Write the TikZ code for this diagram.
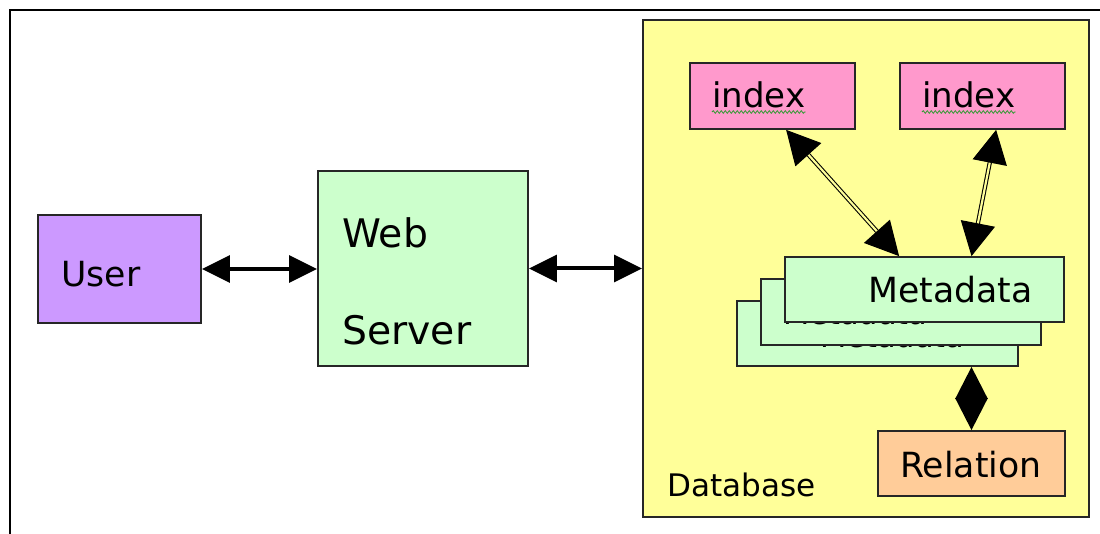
\documentclass[tikz,border=0pt]{standalone}
\usepackage{fontspec}
\setmainfont{DejaVu Sans}
\usetikzlibrary{arrows.meta,fit,calc,decorations.pathmorphing}
\definecolor{userc}{HTML}{CC99FF}
\definecolor{webc}{HTML}{CCFFCC}
\definecolor{dbc}{HTML}{FFFF99}
\definecolor{idxc}{HTML}{FF99CC}
\definecolor{relc}{HTML}{FFCC99}
\definecolor{squigc}{HTML}{339933}
\begin{document}
\begin{tikzpicture}[x=0.75pt,y=-0.75pt,
  box/.style={draw=black!85, line width=1.3pt, inner sep=0pt},
  lbl/.style={anchor=base west, inner sep=0pt, font=\fontsize{26}{30}\selectfont},
  bigarrow/.style={line width=3pt, {Triangle[length=21pt,width=20pt]}-{Triangle[length=21pt,width=20pt]}},
  dblarrow/.style={draw=black, double=dbc, double distance=1.6pt, line width=0.8pt,
     {Triangle[length=25pt,width=26pt]}-{Triangle[length=25pt,width=26pt]}},
  diamondarrow/.style={line width=2pt, {Triangle[length=24pt,width=24pt]}-{Triangle[length=24pt,width=24pt]}},
  squig/.style={draw=squigc, line width=0.6pt, decorate, decoration={snake, amplitude=1pt, segment length=3pt}}
]
\useasboundingbox (0,0) rectangle (1100,534);
\fill[white] (0,0) rectangle (1100,534);
\draw[line width=2.2pt] (10,534) -- (10,10) -- (1100,10);

% boxes
\node[box, fill=dbc, fit={(643,20) (1089,517)}] (db) {};
\node[box, fill=userc, fit={(38,215) (201,323)}] (user) {};
\node[box, fill=webc, fit={(318,171) (528,366)}] (web) {};
\node[box, fill=idxc, fit={(690,63) (855,129)}] (idx1) {};
\node[box, fill=idxc, fit={(900,63) (1065,129)}] (idx2) {};

\node[box, fill=webc, fit={(737,301) (1018,366)}] (meta3) {};
\node[lbl, font=\fontsize{22.8}{26}\selectfont] (meta3t) at (820,348) {Metadata};
\node[box, fill=webc, fit={(761,279) (1041,345)}] (meta2) {};
\node[lbl, font=\fontsize{22.8}{26}\selectfont] (meta2t) at (783,325) {Metadata};
\node[box, fill=webc, fit={(785,257) (1064,322)}] (meta1) {};
\node[lbl] (meta1t) at (868,303) {Metadata};

\node[box, fill=relc, fit={(878,431) (1065,496)}] (rel) {};

% texts
\node[lbl] (usert) at (61,287) {User};
\node[lbl, font=\fontsize{29.5}{34}\selectfont] (webt) at (342,248) {Web};
\node[lbl, font=\fontsize{29.5}{34}\selectfont] (servert) at (342,345) {Server};
\node[lbl, font=\fontsize{23.3}{28}\selectfont] (dbt) at (667,497) {Database};
\node[lbl, font=\fontsize{25.5}{30}\selectfont] (idx1t) at (712,108) {index};
\node[lbl, font=\fontsize{25.5}{30}\selectfont] (idx2t) at (922,108) {index};
\node[lbl] (relt) at (900,478) {Relation};

\draw[squig] ($(idx1t.base west)+(0,4)$) -- ($(idx1t.base east)+(0,4)$);
\draw[squig] ($(idx2t.base west)+(0,4)$) -- ($(idx2t.base east)+(0,4)$);

% connectors
\draw[bigarrow] (user.east) -- (user.east -| web.west);
\draw[bigarrow] (web.east) -- (web.east -| db.west);
\draw[dblarrow] ($(idx1.south west)+(97,0)$) -- ($(meta1.north west)+(115,0)$);
\draw[dblarrow] ($(idx2.south west)+(97,0)$) -- (rel.north |- meta1.north);
\draw[diamondarrow] (rel.north |- meta3.south) -- (rel.north);
\end{tikzpicture}
\end{document}
